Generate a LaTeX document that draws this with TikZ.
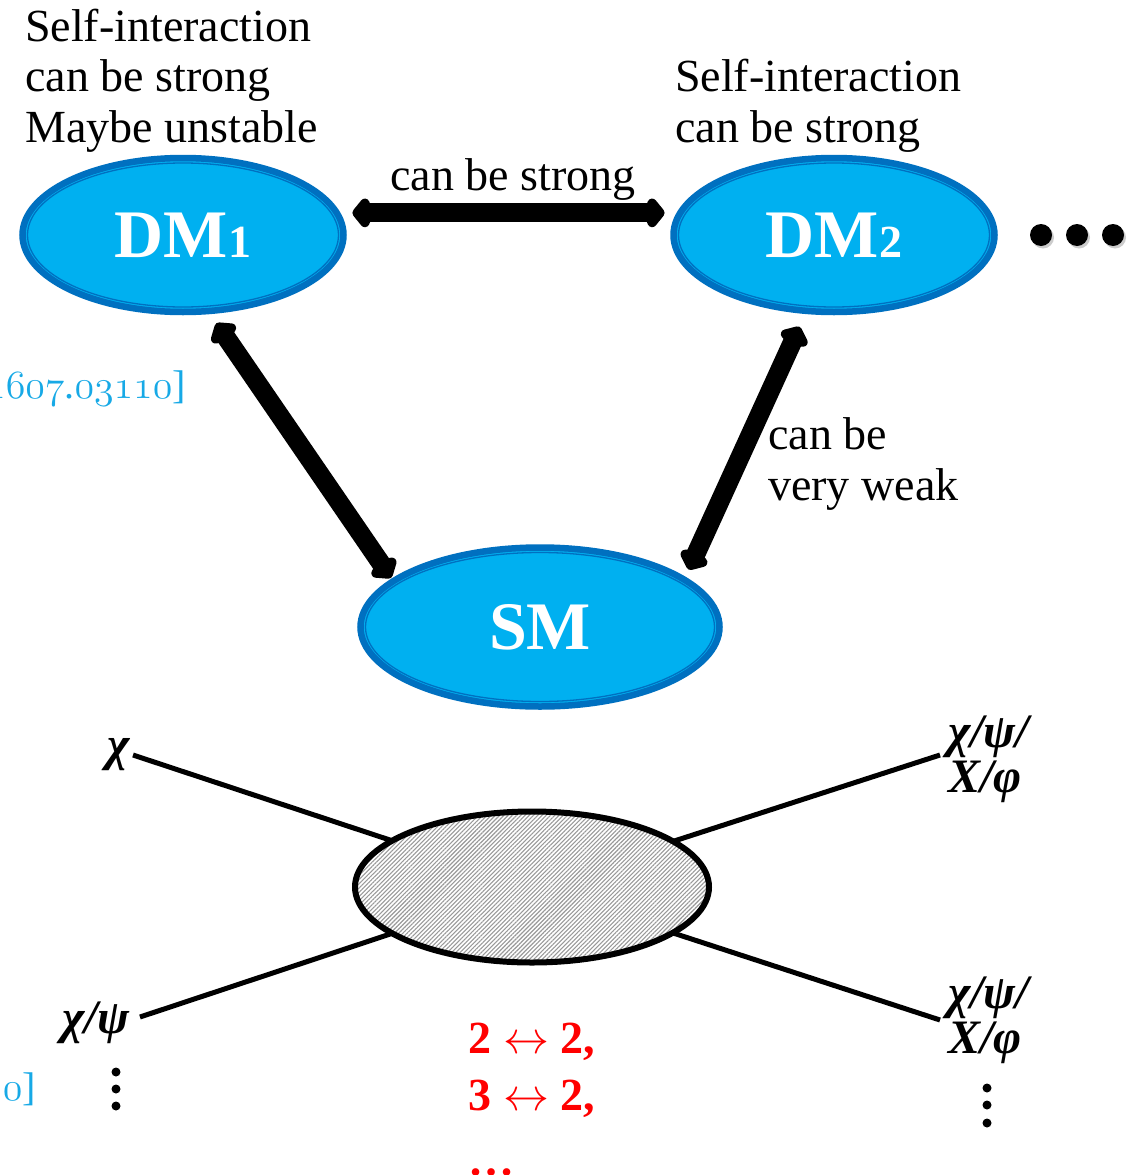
\RequirePackage{fix-cm}
\documentclass[tikz,border=0pt]{standalone}
\usepackage{fontspec}
\setmainfont{Liberation Serif}
\usetikzlibrary{arrows.meta,shapes.geometric,patterns.meta}
\definecolor{dmfill}{HTML}{00B0F0}
\definecolor{dmedge}{HTML}{0070C0}
\definecolor{refcol}{HTML}{17A9E6}
\newcommand{\osfdig}{\usefont{OML}{lmm}{m}{it}}
\newcommand{\smallfig}[1]{{\fontsize{46}{46}\selectfont #1}}
\tikzset{
  dm/.style={ellipse, fill=dmfill, draw=dmedge, line width=6.5pt, inner sep=0pt,
    text=white, font=\fontsize{68}{70}\selectfont\bfseries},
  ring/.style={draw=dmedge, line width=1.3pt},
  txt/.style={inner sep=0pt, font=\fontsize{46}{50.5}\selectfont, align=left},
  reftxt/.style={inner sep=0pt, text=refcol, font=\fontsize{40}{44}\selectfont},
  bigarrow/.style={line width=19pt, line join=round,
    {Kite[length=23pt,width=37pt,inset=8pt,round]}-{Kite[length=23pt,width=37pt,inset=8pt,round]}},
  leg/.style={line width=5pt},
  blob/.style={ellipse, draw, line width=6pt, inner sep=0pt,
    preaction={fill=white},
    pattern={Lines[angle=45,distance=3pt,line width=1.1pt]}, pattern color=gray!80},
  glab/.style={inner sep=0pt, align=left, font=\fontsize{48}{45}\selectfont\bfseries\itshape},
  redtxt/.style={inner sep=0pt, text=red, font=\fontsize{46}{50}\selectfont\bfseries},
  bigdot/.style={circle, fill=black, inner sep=0pt, minimum size=22pt},
  smalldot/.style={circle, fill=black, inner sep=0pt, minimum size=9pt},
}
\begin{document}
\begin{tikzpicture}[x=1pt,y=-1pt]
\useasboundingbox (0,0) rectangle (1133,1175);
\clip (0,0) rectangle (1133,1175);

% --- ellipses
\node[dm, minimum width=321pt, minimum height=154pt] (dm1) at (183,235) {DM\smallfig{1}};
\node[dm, minimum width=321pt, minimum height=154pt] (dm2) at (834,235) {DM\smallfig{2}};
\node[dm, minimum width=359pt, minimum height=159pt] (sm) at (540,627) {SM};
\draw[ring] (dm1.center) ellipse [x radius=155.5, y radius=72];
\draw[ring] (dm2.center) ellipse [x radius=155.5, y radius=72];
\draw[ring] (sm.center) ellipse [x radius=174.5, y radius=74.5];

% --- arrows
\draw[bigarrow, shorten <=12pt, shorten >=12pt] (dm1.8) -- (dm2.172);
\draw[bigarrow, shorten <=11pt, shorten >=1pt] (dm1.-71) -- (sm.162);
\draw[bigarrow, shorten <=14pt, shorten >=8pt] (dm2.-110) -- (sm.19.5);

% --- dots
\foreach \x/\n in {1041/a,1077/b,1113/c}{
  \fill[gray!40] (\x+2,237.5) circle [radius=11pt];
  \node[bigdot] (dot\n) at (\x,235) {};
}

% --- texts
\node[txt, anchor=base west] (notetl) at (25,142) {Self-interaction\\can be strong\\Maybe unstable};
\node[txt, anchor=base west] (notetr) at (675,142) {Self-interaction\\can be strong};
\node[txt, anchor=base] (lblh) at (513,190) {can be strong};
\node[txt, anchor=base west] (lblw) at (768,500) {can be\\very weak};
\node[reftxt, anchor=base east] (ref1) at (186,398) {[{\osfdig 1607}.{\osfdig 03110}]};
\node[reftxt, anchor=base east] (ref2) at (36,1100) {{\osfdig 0}]};

% --- scattering blob
\coordinate (bc) at (532,887);
\coordinate (e1) at (133,755);
\coordinate (e2) at (940,755);
\coordinate (e3) at (140,1017);
\coordinate (e4) at (940,1020);
\draw[leg] (e1) -- (bc);
\draw[leg] (e2) -- (bc);
\draw[leg] (e3) -- (bc);
\draw[leg] (e4) -- (bc);
\node[blob, minimum width=354pt, minimum height=151pt] (blob) at (bc) {};

\node[glab, anchor=base east] (lchi) at (130,760) {χ};
\node[glab, anchor=base east] (lchipsi) at (130,1033) {χ/ψ};
\node[glab, anchor=base west] (lr1) at (948,792) {χ/ψ/\\X/φ};
\node[glab, anchor=base west] (lr2) at (948,1053) {χ/ψ/\\X/φ};

\foreach \y/\n in {1072/a,1089/b,1106/c}{ \node[smalldot] (ld\n) at (116,\y) {}; }
\foreach \y/\n in {1088/a,1105/b,1123/c}{ \node[smalldot] (rd\n) at (987,\y) {}; }

\node[redtxt, anchor=base] (proc1) at (532,1053) {2 \(\leftrightarrow\) 2,};
\node[redtxt, anchor=base] (proc2) at (532,1110) {3 \(\leftrightarrow\) 2,};
\node[redtxt, anchor=base west] (proc3) at (468,1175) {…};
\end{tikzpicture}
\end{document}
